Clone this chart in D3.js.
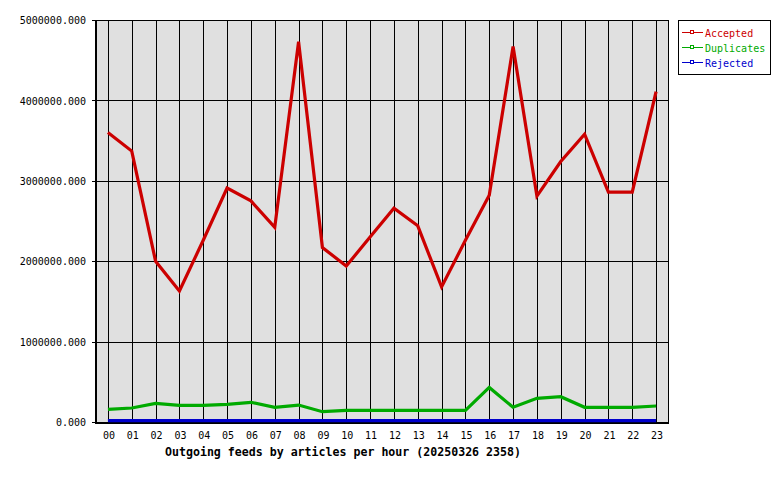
<!DOCTYPE html>
<html><head><meta charset="utf-8">
<script src="https://cdn.jsdelivr.net/npm/d3@7"></script>
<style>body{margin:0;background:#fff}svg{display:block}</style>
</head><body><svg id="c" width="780" height="480"></svg>
<script>
const hours = ["00","01","02","03","04","05","06","07","08","09","10","11","12","13","14","15","16","17","18","19","20","21","22","23"];
const accepted = [3600000,3370000,2000000,1630000,2260000,2910000,2750000,2420000,4730000,2170000,1940000,2300000,2660000,2440000,1680000,2260000,2820000,4670000,2810000,3240000,3580000,2860000,2860000,4110000];
const duplicates = [158000,174000,232000,207000,207000,220000,245000,183000,211000,128000,145000,145000,145000,145000,145000,145000,430000,183000,295000,315000,183000,183000,183000,199000];
const rejected = [16000,16000,16000,16000,16000,16000,16000,16000,16000,16000,16000,16000,16000,16000,16000,16000,16000,16000,16000,16000,16000,16000,16000,16000];
const yTicks = [0,1000000,2000000,3000000,4000000,5000000];
const seriesNames = ["Accepted","Duplicates","Rejected"];
const seriesColors = ["#cc0000","#00aa00","#0000cc"];
const title = "Outgoing feeds by articles per hour (20250326 2358)";

const svg = d3.select("#c");
const L=96, R=668, T=20, B=422;
const x = d3.scalePoint().domain(hours).range([L,R]).padding(0.5);
const y = d3.scaleLinear().domain([0,5000000]).range([B,T]);
const font = "'DejaVu Sans Mono', monospace";

svg.append("rect").attr("x",L).attr("y",T).attr("width",R-L).attr("height",B-T).attr("fill","#e0e0e0");

// grid
svg.append("g").selectAll("line").data(hours).join("line")
  .attr("x1",d=>Math.round(x(d))+0.5).attr("x2",d=>Math.round(x(d))+0.5)
  .attr("y1",T).attr("y2",B).attr("stroke","#000").attr("stroke-width",1);
svg.append("g").selectAll("line").data(yTicks).join("line")
  .attr("x1",L-4).attr("x2",R).attr("y1",d=>Math.round(y(d))+0.5).attr("y2",d=>Math.round(y(d))+0.5)
  .attr("stroke","#000").attr("stroke-width",1);

// axes via d3
const yAxis = d3.axisLeft(y).tickValues(yTicks).tickSize(0).tickPadding(10).tickFormat(d=>d3.format(".3f")(d));
const gy = svg.append("g").attr("transform",`translate(${L},0.5)`).call(yAxis);
gy.select(".domain").remove();
gy.selectAll("text").attr("font-family",font).attr("font-size",10).attr("fill","#000");

const xAxis = d3.axisBottom(x).tickSize(0).tickPadding(10);
const gx = svg.append("g").attr("transform",`translate(0.5,${B})`).call(xAxis);
gx.select(".domain").remove();
gx.selectAll("text").attr("font-family",font).attr("font-size",10).attr("fill","#000");

// frame
svg.append("rect").attr("x",L+0.5).attr("y",T+0.5).attr("width",R-L).attr("height",B-T)
  .attr("fill","none").attr("stroke","#000").attr("stroke-width",1);
svg.append("line").attr("x1",L).attr("x2",R+1).attr("y1",B+1).attr("y2",B+1).attr("stroke","#000").attr("stroke-width",2);
svg.append("line").attr("x1",L).attr("x2",L).attr("y1",T).attr("y2",B+2).attr("stroke","#000").attr("stroke-width",2);

// lines
const line = d3.line().x((d,i)=>x(hours[i])).y(d=>y(d));
[accepted,duplicates,rejected].forEach((s,k)=>{
  svg.append("path").datum(s).attr("d",line).attr("fill","none")
    .attr("stroke",seriesColors[k]).attr("stroke-width",3.2).attr("stroke-linejoin","miter");
});

// title
svg.append("text").attr("x",(L+R)/2-39).attr("y",456).attr("text-anchor","middle")
  .attr("font-family",font).attr("font-weight","bold").attr("font-size",11.6).text(title);

// legend
const lg = svg.append("g");
lg.append("rect").attr("x",678.5).attr("y",20.5).attr("width",92).attr("height",54)
  .attr("fill","#fff").attr("stroke","#000").attr("stroke-width",1);
seriesNames.forEach((n,i)=>{
  const yy = 32 + i*15;
  lg.append("line").attr("x1",682).attr("x2",703).attr("y1",yy+0.5).attr("y2",yy+0.5).attr("stroke",seriesColors[i]).attr("stroke-width",1);
  lg.append("rect").attr("x",690.5).attr("y",yy-1.5).attr("width",3).attr("height",3).attr("fill","#fff").attr("stroke",seriesColors[i]).attr("stroke-width",1);
  lg.append("text").attr("x",705).attr("y",yy+4.5).attr("font-family",font).attr("font-size",10)
    .attr("fill",seriesColors[i]).text(n);
});
</script></body></html>
